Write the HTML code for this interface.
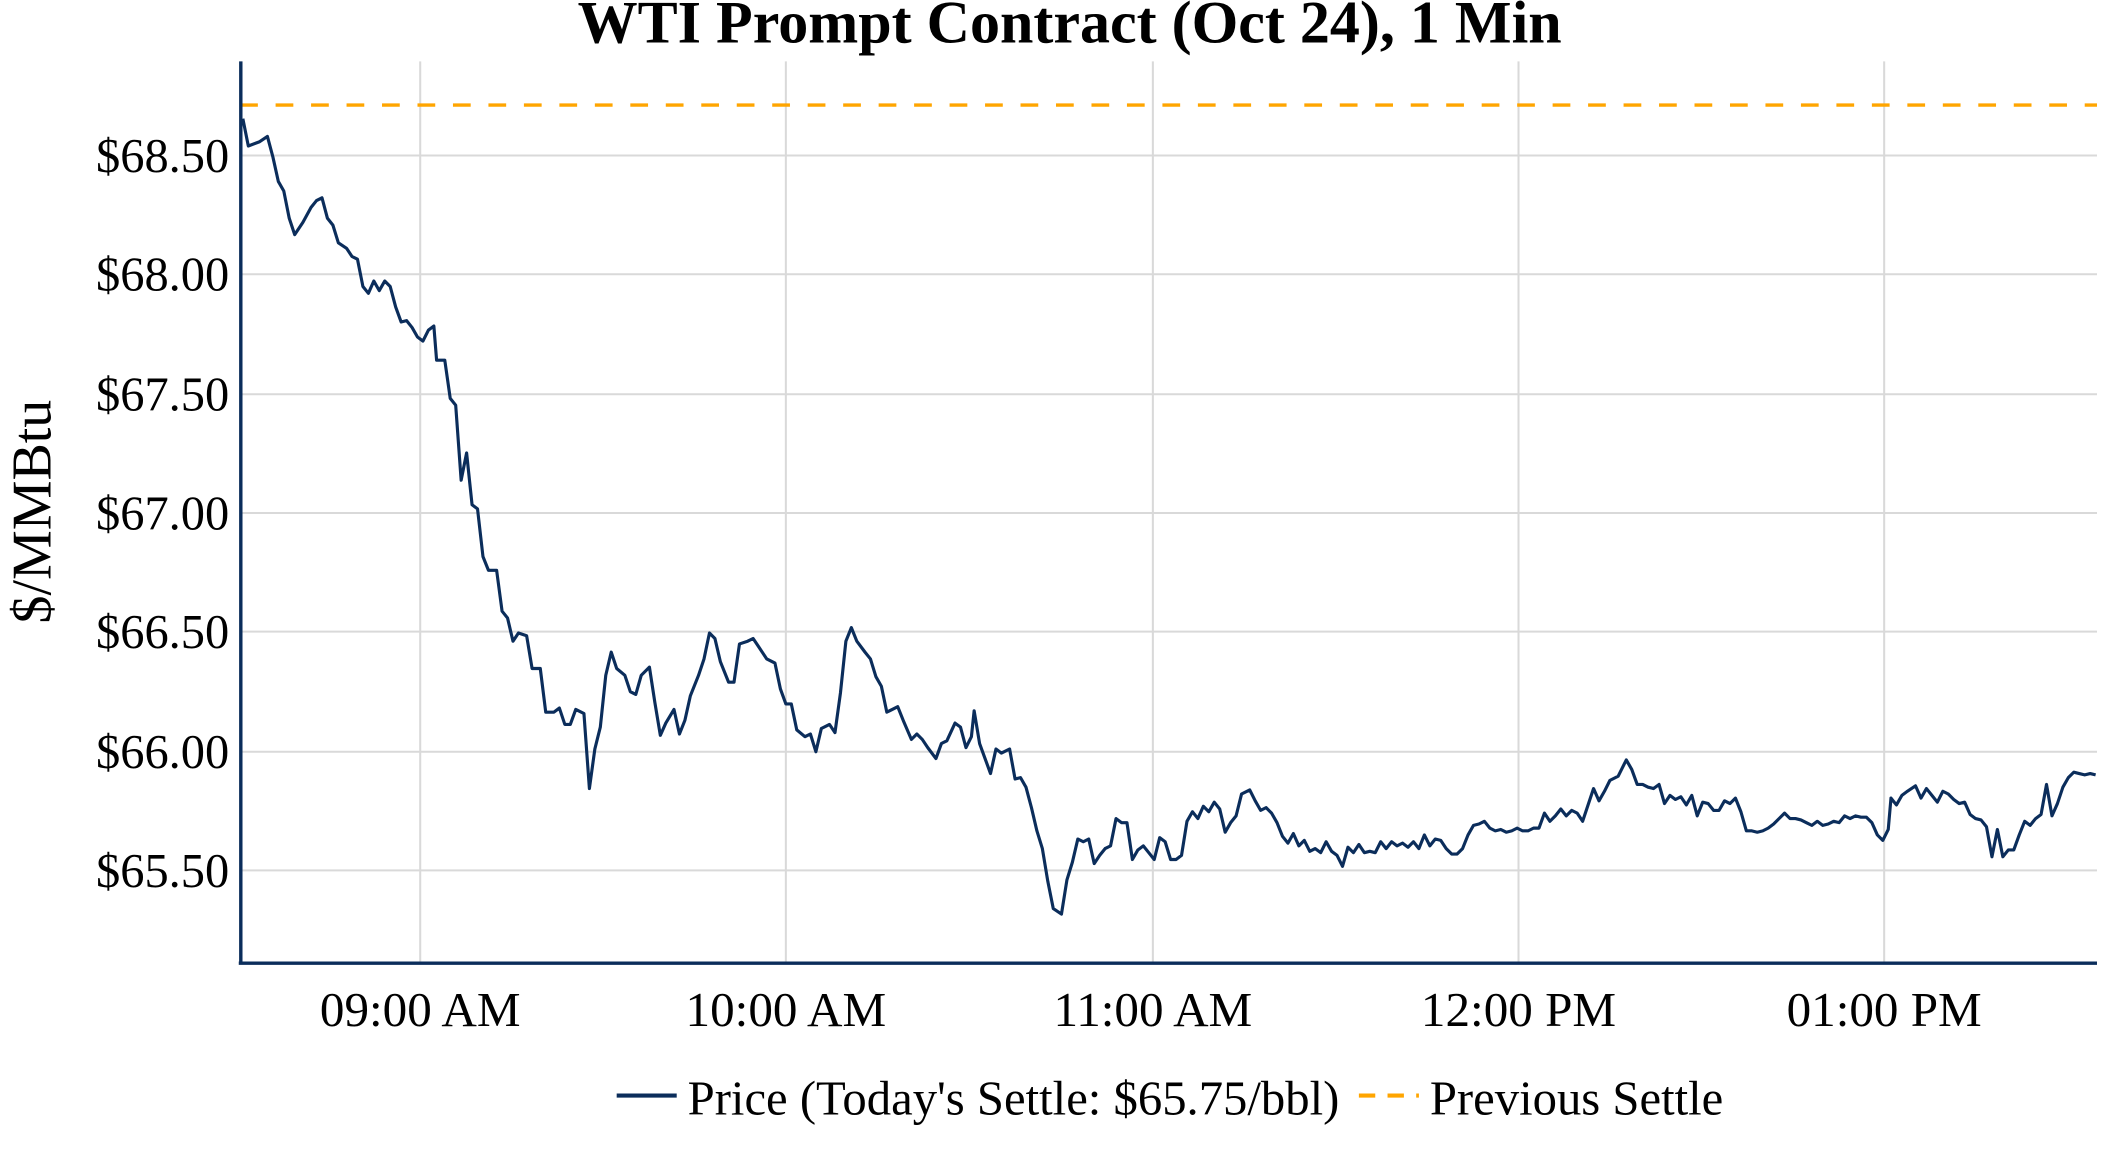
<!DOCTYPE html>
<html><head><meta charset="utf-8"><style>
html,body{margin:0;padding:0;background:#fff;}
svg{display:block;}
text{font-family:"Liberation Serif",serif;fill:#000;}
</style></head><body>
<svg width="2112" height="1152" viewBox="0 0 1548 844.4" preserveAspectRatio="none" xmlns="http://www.w3.org/2000/svg">
<rect width="1548" height="845" fill="#fff"/>
<text x="784" y="31" font-size="44" font-weight="bold" text-anchor="middle">WTI Prompt Contract (Oct 24), 1 Min</text>
<g stroke="#d9d9d9" stroke-width="1.5">
<line x1="176" x2="1537" y1="114" y2="114"/>
<line x1="176" x2="1537" y1="201" y2="201"/>
<line x1="176" x2="1537" y1="289" y2="289"/>
<line x1="176" x2="1537" y1="376" y2="376"/>
<line x1="176" x2="1537" y1="463" y2="463"/>
<line x1="176" x2="1537" y1="551" y2="551"/>
<line x1="176" x2="1537" y1="638" y2="638"/>
<line x1="308" x2="308" y1="45" y2="706"/>
<line x1="576" x2="576" y1="45" y2="706"/>
<line x1="845" x2="845" y1="45" y2="706"/>
<line x1="1113" x2="1113" y1="45" y2="706"/>
<line x1="1381" x2="1381" y1="45" y2="706"/>
</g>
<line x1="176" x2="1537" y1="77" y2="77" stroke="#ffa500" stroke-width="2.5" stroke-dasharray="13,13"/>
<polyline fill="none" stroke="#0b2d5b" stroke-width="2.3" stroke-linejoin="round" points="178,87 182,107 190,104 196,100 200,115 204,133 208,140 212,160 216,172 222,163 228,152 232,147 236,145 240,160 244,165 248,178 254,182 258,188 262,190 266,210 270,215 274,206 278,213 282,206 286,210 290,225 294,236 298,235 302,240 306,247 310,250 314,242 318,239 320,264 326,264 330,292 334,297 338,352 342,332 346,370 350,373 354,408 358,418 364,418 368,448 372,453 376,470 380,464 386,466 390,490 396,490 400,522 406,522 410,519 414,531 418,531 422,520 428,523 432,578 436,549 440,533 444,495 448,478 452,490 458,495 462,507 466,509 470,495 476,489 480,515 484,539 488,530 494,520 498,538 502,528 506,510 512,495 516,483 520,464 524,468 528,485 534,500 538,500 542,472 548,470 552,468 556,474 562,483 568,486 572,505 576,516 580,516 584,535 590,540 594,538 598,551 602,534 608,531 612,537 616,508 620,470 624,460 628,470 634,478 638,483 642,496 646,503 650,522 654,520 658,518 662,528 668,542 672,538 676,542 680,548 686,556 690,545 694,543 700,530 704,533 708,548 712,540 714,521 718,545 722,556 726,567 730,549 734,552 740,549 744,571 748,570 752,577 756,592 760,609 764,622 768,646 772,666 778,670 782,645 786,632 790,615 794,617 798,615 802,633 806,627 810,622 814,620 818,600 822,603 826,603 830,630 834,623 838,620 842,625 846,630 850,614 854,617 858,630 862,630 866,627 870,602 874,595 878,600 882,591 886,595 890,588 894,593 898,610 902,603 906,598 910,582 916,579 920,587 924,594 928,592 932,596 936,603 940,613 944,618 948,611 952,620 956,616 960,624 964,622 968,625 972,617 976,624 980,627 984,635 988,621 992,625 996,619 1000,625 1004,624 1008,625 1012,617 1016,622 1020,617 1024,620 1028,618 1032,621 1036,617 1040,622 1044,612 1048,620 1052,615 1056,616 1060,622 1064,626 1068,626 1072,622 1076,612 1080,605 1084,604 1088,602 1092,607 1096,609 1100,608 1104,610 1108,609 1112,607 1116,609 1120,609 1124,607 1128,607 1132,596 1136,602 1140,598 1144,593 1148,598 1152,594 1156,596 1160,602 1164,590 1168,578 1172,587 1176,580 1180,572 1186,569 1192,557 1196,564 1200,575 1204,575 1208,577 1212,578 1216,575 1220,589 1224,583 1228,586 1232,584 1236,590 1240,583 1244,598 1248,588 1252,589 1256,594 1260,594 1264,587 1268,589 1272,585 1276,595 1280,609 1284,609 1288,610 1292,609 1296,607 1300,604 1304,600 1308,596 1312,600 1316,600 1320,601 1324,603 1328,605 1332,602 1336,605 1340,604 1344,602 1348,603 1352,598 1356,600 1360,598 1364,599 1368,599 1372,603 1376,612 1380,616 1384,608 1386,585 1390,590 1394,583 1398,580 1404,576 1408,585 1412,578 1416,583 1420,588 1424,580 1428,582 1432,586 1436,589 1440,588 1444,597 1448,600 1452,601 1456,606 1460,628 1464,608 1468,628 1472,623 1476,623 1480,612 1484,602 1488,605 1492,600 1496,597 1500,575 1504,598 1508,589 1512,577 1516,570 1520,566 1524,567 1528,568 1532,567 1536,568"/>
<line x1="176.5" x2="176.5" y1="45" y2="707" stroke="#0b2d5b" stroke-width="2.5"/>
<line x1="175" x2="1537" y1="706" y2="706" stroke="#0b2d5b" stroke-width="2.5"/>
<g font-size="35.5" text-anchor="end">
<text x="168" y="126">$68.50</text>
<text x="168" y="213">$68.00</text>
<text x="168" y="301">$67.50</text>
<text x="168" y="388">$67.00</text>
<text x="168" y="475">$66.50</text>
<text x="168" y="563">$66.00</text>
<text x="168" y="650">$65.50</text>
</g>
<g font-size="36" text-anchor="middle">
<text x="308" y="752">09:00 AM</text>
<text x="576" y="752">10:00 AM</text>
<text x="845" y="752">11:00 AM</text>
<text x="1113" y="752">12:00 PM</text>
<text x="1381" y="752">01:00 PM</text>
</g>
<text transform="translate(37,375) rotate(-90)" font-size="41" text-anchor="middle">$/MMBtu</text>
<line x1="452" x2="496" y1="803" y2="803" stroke="#0b2d5b" stroke-width="3"/>
<text x="504" y="817" font-size="35.7">Price (Today's Settle: $65.75/bbl)</text>
<line x1="996" x2="1040" y1="803" y2="803" stroke="#ffa500" stroke-width="3" stroke-dasharray="12,9"/>
<text x="1048" y="817" font-size="35.7">Previous Settle</text>
</svg>
</body></html>
